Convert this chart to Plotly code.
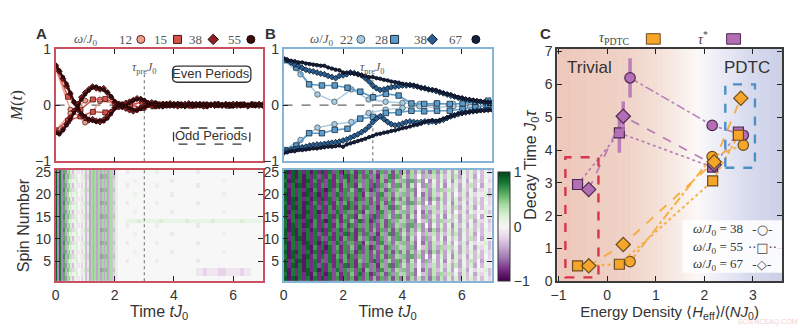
import plotly.graph_objects as go

W, H = 800, 335


def px(x):
    return x / W


def py(y):
    return 1 - y / H


SANS = "Liberation Sans, Arial, sans-serif"
SERIF = "Liberation Serif, Times New Roman, serif"

# ---------------------------------------------------------------- data
TIME_STEP = 0.125  # sampling of the dense traces and heatmap columns

# Panel A: magnetisation, trivial regime
A12_t = [0.0, 0.5, 1.0, 1.5, 2.0, 2.5, 3.0, 3.5, 4.0, 4.5, 5.0, 5.5, 6.0, 6.5, 7.0]
A12_even = [0.66, -0.08, -0.31, 0.07, 0.04, 0.00, 0.06, 0.02, 0.00, 0.01, -0.01, 0.00, 0.01, 0.00, 0.00]
A12_odd = [-0.45, -0.15, 0.08, 0.10, 0.02, 0.00, -0.05, 0.00, 0.01, -0.01, 0.00, 0.01, 0.00, -0.01, 0.00]

A15_t = [0.0, 0.42, 0.84, 1.26, 1.68, 2.09, 2.51, 2.93, 3.35, 3.77, 4.19, 4.61, 5.03, 5.45, 5.86, 6.28, 6.70]
A15_even = [0.68, 0.15, -0.08, 0.10, 0.11, 0.02, 0.00, 0.06, 0.02, 0.00, 0.01, 0.00, -0.01, 0.01, 0.00, 0.01, 0.00]
A15_odd = [-0.45, -0.28, -0.20, -0.12, -0.13, -0.03, 0.00, -0.05, -0.02, 0.01, 0.00, -0.01, 0.01, 0.00, -0.01, 0.00, 0.01]

A38_even = [0.70, 0.60, 0.47, 0.34, 0.20, 0.05, -0.08, -0.17, -0.23, -0.27, -0.25, -0.28, -0.30, -0.26, -0.20,
            -0.12, -0.04, 0.02, 0.00, 0.04, 0.06, 0.09, 0.12, 0.10, 0.07, 0.03, 0.05, 0.01, -0.02, 0.02, 0.00,
            0.03, -0.01, 0.02, 0.00, -0.02, 0.03, 0.01, -0.01, 0.02, 0.01, -0.02, 0.00, 0.02, 0.01, -0.01, 0.02,
            0.00, -0.01, 0.02, 0.00, 0.01, -0.01, 0.02, 0.00, -0.01, 0.01]
A38_odd = [-0.48, -0.50, -0.43, -0.33, -0.22, -0.10, 0.02, 0.14, 0.22, 0.28, 0.33, 0.30, 0.28, 0.30, 0.22, 0.14,
           0.05, -0.02, -0.03, -0.06, -0.09, -0.11, -0.08, -0.05, -0.02, 0.01, -0.02, 0.02, 0.00, -0.02, 0.02,
           0.00, 0.01, -0.02, 0.01, 0.02, 0.00, -0.01, 0.02, 0.00, -0.02, 0.01, 0.01, -0.01, 0.02, 0.00, -0.01,
           0.01, 0.02, -0.01, 0.00, 0.01, -0.02, 0.01, 0.00, 0.02, -0.01]
A55_even = [0.72, 0.62, 0.50, 0.38, 0.22, 0.06, -0.06, -0.15, -0.20, -0.25, -0.28, -0.30, -0.27, -0.29, -0.24,
            -0.16, -0.06, 0.00, 0.03, -0.01, 0.04, 0.08, 0.10, 0.12, 0.09, 0.05, 0.02, 0.05, 0.00, -0.03, 0.02,
            -0.02, 0.03, 0.00, 0.02, -0.02, 0.01, 0.03, -0.01, 0.02, 0.00, -0.02, 0.02, 0.01, -0.01, 0.02, 0.00,
            0.01, -0.02, 0.01, 0.02, -0.01, 0.00, 0.02, -0.01, 0.01, 0.00]
A55_odd = [-0.50, -0.52, -0.45, -0.36, -0.26, -0.14, -0.02, 0.10, 0.19, 0.26, 0.31, 0.33, 0.30, 0.27, 0.24, 0.16,
           0.07, 0.00, -0.04, -0.02, -0.05, -0.08, -0.10, -0.07, -0.04, -0.01, 0.02, -0.03, 0.01, 0.03, -0.02,
           0.02, -0.01, 0.02, -0.02, 0.00, 0.02, -0.01, 0.01, -0.02, 0.01, 0.02, -0.01, 0.00, 0.02, -0.01, 0.01,
           -0.02, 0.00, 0.01, -0.01, 0.02, 0.00, -0.01, 0.01, 0.00, -0.01]

# Panel B: magnetisation, prethermal time-crystal regime
B22_t = [0.0, 0.57, 1.14, 1.71, 2.28, 2.86, 3.43, 4.0, 4.57, 5.14, 5.71, 6.28, 6.85]
B22_even = [0.80, 0.55, 0.19, 0.06, 0.28, 0.10, 0.06, 0.04, 0.02, 0.03, 0.02, 0.04, 0.06]
B22_odd = [-0.80, -0.62, -0.40, -0.34, -0.30, -0.14, -0.08, -0.05, -0.02, -0.04, -0.02, -0.03, -0.01]

B28_t = [0.0, 0.43, 0.86, 1.29, 1.72, 2.15, 2.58, 3.01, 3.44, 3.87, 4.30, 4.73, 5.16, 5.59, 6.02, 6.45, 6.88]
B28_even = [0.80, 0.67, 0.37, 0.35, 0.35, 0.31, 0.24, 0.14, 0.20, 0.17, 0.03, 0.02, 0.03, 0.02, 0.03, 0.05, 0.08]
B28_odd = [-0.80, -0.72, -0.50, -0.50, -0.44, -0.42, -0.24, -0.21, -0.14, -0.13, -0.10, -0.11, -0.10, -0.10,
           -0.07, -0.04, 0.00]

B38_even = [0.82, 0.80, 0.76, 0.72, 0.70, 0.66, 0.63, 0.61, 0.60, 0.58, 0.56, 0.55, 0.52, 0.50, 0.48, 0.52,
            0.53, 0.55, 0.58, 0.57, 0.55, 0.53, 0.48, 0.42, 0.35, 0.30, 0.27, 0.28, 0.30, 0.32, 0.33, 0.34, 0.35,
            0.35, 0.36, 0.34, 0.33, 0.31, 0.30, 0.28, 0.27, 0.25, 0.23, 0.21, 0.19, 0.17, 0.15, 0.13, 0.12, 0.10,
            0.09, 0.08, 0.07, 0.06, 0.05, 0.05, 0.04]
B38_odd = [-0.82, -0.80, -0.79, -0.78, -0.76, -0.75, -0.74, -0.72, -0.71, -0.70, -0.70, -0.69, -0.68, -0.67,
           -0.66, -0.65, -0.63, -0.61, -0.58, -0.55, -0.52, -0.48, -0.44, -0.38, -0.30, -0.24, -0.20, -0.25,
           -0.30, -0.34, -0.36, -0.35, -0.33, -0.30, -0.29, -0.30, -0.31, -0.30, -0.29, -0.30, -0.29, -0.30,
           -0.28, -0.26, -0.23, -0.20, -0.18, -0.16, -0.14, -0.13, -0.12, -0.11, -0.10, -0.09, -0.08, -0.08, -0.07]
B67_even = [0.83, 0.80, 0.79, 0.78, 0.76, 0.76, 0.74, 0.73, 0.72, 0.71, 0.70, 0.70, 0.67, 0.65, 0.63, 0.62,
            0.58, 0.58, 0.57, 0.56, 0.55, 0.53, 0.52, 0.50, 0.50, 0.48, 0.47, 0.45, 0.44, 0.42, 0.41, 0.40, 0.38,
            0.37, 0.35, 0.36, 0.33, 0.31, 0.30, 0.28, 0.27, 0.27, 0.24, 0.22, 0.20, 0.19, 0.16, 0.14, 0.13, 0.11,
            0.10, 0.09, 0.08, 0.07, 0.06, 0.05, 0.05]
B67_odd = [-0.86, -0.84, -0.82, -0.82, -0.80, -0.80, -0.79, -0.78, -0.77, -0.77, -0.76, -0.75, -0.74, -0.74,
           -0.73, -0.72, -0.74, -0.70, -0.68, -0.66, -0.64, -0.62, -0.60, -0.57, -0.55, -0.52, -0.51, -0.49,
           -0.48, -0.46, -0.45, -0.43, -0.41, -0.40, -0.38, -0.36, -0.35, -0.33, -0.30, -0.28, -0.27, -0.28,
           -0.27, -0.24, -0.22, -0.20, -0.18, -0.15, -0.15, -0.13, -0.12, -0.11, -0.11, -0.10, -0.10, -0.09, -0.09]

# Spin-resolved magnetisation maps, rows from spin 25 (top) down to spin 1.
# Each character is one stroboscopic sample: 'a' = -1, 'k' = 0, 'u' = +1.
LEVELS = "abcdefghijklmnopqrstu"
N_COLS = 56

# Panel A map: even-period and odd-period samples for each spin (interleaved when drawn)
HA_E = ["tsqomljihgggggghjk", "tsrpnmkjhgggfgghjk", "tsqomlkjhgggggghjk"]
HA_O = ["fffghjklmoooooonlk", "ffghijlmnoooppoolk", "ffgklmllmoooooonlk"]
HA_T0 = "kkkkkkkkkkkkkkkkkkkkkkkkkkkkkkkkkkkkkk"
HA_T1 = "kjkkkkkkklkkkkkkkkkkjkkkkkkkkkkkkkkkkk"
HA_T2 = "kkklkkkkkkkkkjkkkkkkkkkkkkklkkkkkkkkkk"
HA_TG = "klllmlllllmllllllmllllllmlllllllmlllll"
HA_TP = "kkkkkkkkkkkkkkkkkkkkjjijjjiijjjjijjkkk"
HEAT_A_ROWS = [  # (head variant, tail) from spin 25 down to spin 1
    (0, HA_T1), (1, HA_T0), (2, HA_T2), (0, HA_T1), (1, HA_T0),
    (2, HA_T2), (0, HA_T0), (1, HA_T1), (2, HA_T0), (0, HA_T2),
    (1, HA_T0), (2, HA_TG), (0, HA_T1), (1, HA_T0), (2, HA_T2),
    (0, HA_T0), (1, HA_T1), (2, HA_T0), (0, HA_T2), (1, HA_T0),
    (2, HA_T1), (0, HA_T0), (1, HA_TP), (2, HA_TP), (0, HA_T0),
]

HB_1 = "tbtbscsbsctcsdrc" + "rdqcrdqdpdqepdpe" + "oeofnfoeofng" + "mgmgmhmhlhli"
HB_2 = "sbtcsbtcrcsdscqd" + "qcrdqeqdqdpdqeog" + "peqfofkflgmg" + "lfmhlglhmhki"
HB_3 = "tctbsbscsdscrcrd" + "scrcqdreqcpfrdqf" + "nfogkgohngmh" + "mgnglhmgkhlj"
HB_4 = "sbscsctbrcsbsdqc" + "rdpdsdqcrepdqfph" + "ofpekhofngoh" + "nhlgmhlgmilh"
HB_5 = "tcsbtbscscrdscrc" + "qdrcpeqdsdqfoeqe" + "oenfkfpgmglf" + "lhmglhnhkglj"
HB_6 = "tbscsbtcsbscrdsd" + "reqdrcpeqdrfpeog" + "pfoekeofnhmg" + "mgkhmgliljmh"
HEAT_B = [HB_1, HB_3, HB_2, HB_5, HB_4, HB_6, HB_1, HB_2, HB_3, HB_6, HB_5, HB_4, HB_2,
          HB_1, HB_3, HB_5, HB_6, HB_4, HB_1, HB_2, HB_5, HB_3, HB_6, HB_4, HB_1]

# Panel C: decay times versus energy density
C38_x = [0.47, 2.16, 2.80]
C38_tauP = [0.60, 3.80, 4.15]
C38_tauS = [6.20, 4.75, 4.45]
C38_tauS_err = [0.60, 0.0, 0.0]

C55_x = [-0.61, 0.25, 2.17, 2.70]
C55_tauP = [0.47, 0.52, 3.06, 4.45]
C55_tauS = [2.95, 4.52, 3.48, 4.55]
C55_tauS_err = [0.0, 0.60, 0.0, 0.0]

C67_x = [-0.38, 0.33, 2.20, 2.75]
C67_tauP = [0.47, 1.12, 3.64, 5.58]
C67_tauP_err = [0.0, 0.0, 0.0, 0.20]
C67_tauS = [2.80, 5.03, 3.55, None]
C67_tauS_err = [0.0, 0.45, 0.0, 0.0]


def levels(s):
    s = (s + "k" * N_COLS)[:N_COLS]
    return [(LEVELS.index(c) - 10) / 10 for c in s]


def heat_a():
    z = []
    for head, tail in HEAT_A_ROWS:
        ev = levels(HA_E[head] + tail)
        od = levels(HA_O[head] + tail)
        row = []
        for a, b in zip(ev, od):
            row += [a, b]
        z.append(row)
    return z[::-1]


def heat_b():
    return [levels(r) for r in HEAT_B][::-1]


def dense_t(vals):
    return [round(i * TIME_STEP, 4) for i in range(len(vals))]


# ---------------------------------------------------------------- figure
fig = go.Figure()

fig.add_trace(go.Heatmap(z=heat_a(), x0=TIME_STEP / 4, dx=TIME_STEP / 2, y0=1, dy=1,
                         colorscale="PRGn", zmin=-1, zmax=1, showscale=False,
                         xaxis="x2", yaxis="y2", hoverinfo="skip"))
fig.add_trace(go.Heatmap(z=heat_b(), x0=TIME_STEP / 2, dx=TIME_STEP, y0=1, dy=1,
                         colorscale="PRGn", zmin=-1, zmax=1, xaxis="x4", yaxis="y4", hoverinfo="skip",
                         colorbar=dict(x=px(495), xanchor="left", xpad=0, ypad=0,
                                       y=py(287), yanchor="bottom", len=(287 - 173) / H,
                                       lenmode="fraction", thickness=12, thicknessmode="pixels",
                                       outlinewidth=1, outlinecolor="#333",
                                       tickvals=[-1, 0, 1], ticktext=["\u22121", "0", "1"],
                                       ticks="", tickfont=dict(family=SANS, size=14, color="#333"))))


def add_series(xa, ya, t, vals, color, symbol, size, lw, outline="#2a1010", dash="solid"):
    fig.add_trace(go.Scatter(x=t, y=vals, mode="lines+markers", xaxis=xa, yaxis=ya,
                             line=dict(color=color, width=lw, dash=dash),
                             marker=dict(symbol=symbol, size=size, color=color,
                                         line=dict(color=outline, width=0.8)),
                             hoverinfo="skip"))


# panel A lines
cA12, cA15, cA38, cA55 = "#eda08c", "#d4544c", "#8e1f24", "#3b0b0d"
for vals in (A12_even, A12_odd):
    add_series("x", "y", A12_t, vals, cA12, "circle", 5, 1.5, "#5a2020")
for vals in (A15_even, A15_odd):
    add_series("x", "y", A15_t, vals, cA15, "square", 5, 1.5, "#4a1515")
for vals in (A38_even, A38_odd):
    add_series("x", "y", dense_t(vals), vals, cA38, "diamond", 4.5, 2, "#2a0808")
for vals in (A55_even, A55_odd):
    add_series("x", "y", dense_t(vals), vals, cA55, "circle", 3.5, 2.2, "#1a0505")

# panel B lines
cB22, cB28, cB38, cB67 = "#a9cbe0", "#5c9ccb", "#2b5f93", "#16203c"
for vals in (B22_even, B22_odd):
    add_series("x3", "y3", B22_t, vals, cB22, "circle", 5.5, 1.5, "#4a5a6a")
for vals in (B28_even, B28_odd):
    add_series("x3", "y3", B28_t, vals, cB28, "square", 5.5, 1.6, "#1a2a3a")
for vals in (B38_even, B38_odd):
    add_series("x3", "y3", dense_t(vals), vals, cB38, "diamond", 4.5, 2, "#0a1a2a")
for vals in (B67_even, B67_odd):
    add_series("x3", "y3", dense_t(vals), vals, cB67, "circle", 3.5, 2.2, "#0a0f1e")

# panel C
ORANGE, ORANGE_EDGE = "#f5a52a", "#6b4c1e"
PURPLE, PURPLE_EDGE = "#b36eb5", "#4d2a50"
C_SERIES = [
    (C38_x, C38_tauS, C38_tauS_err, C38_tauP, None, "circle", "dashdot", 10.5),
    (C55_x, C55_tauS, C55_tauS_err, C55_tauP, None, "square", "dot", 10),
    (C67_x, C67_tauS, C67_tauS_err, C67_tauP, C67_tauP_err, "diamond", "dash", 11),
]
for xs, ts, te, tp, tpe, sym, dash, msz in C_SERIES:
    fig.add_trace(go.Scatter(x=xs, y=ts, mode="lines+markers", xaxis="x5", yaxis="y5",
                             line=dict(color="rgba(170,105,172,0.85)", width=1.6, dash=dash),
                             marker=dict(symbol=sym, size=msz, color=PURPLE,
                                         line=dict(color=PURPLE_EDGE, width=1.2)),
                             error_y=dict(type="data", array=te, visible=True, width=0, thickness=3.5,
                                          color="rgba(179,110,181,0.85)"),
                             hoverinfo="skip", connectgaps=False))
for xs, ts, te, tp, tpe, sym, dash, msz in C_SERIES:
    fig.add_trace(go.Scatter(x=xs, y=tp, mode="lines+markers", xaxis="x5", yaxis="y5",
                             line=dict(color="rgba(245,170,55,0.9)", width=2, dash=dash),
                             marker=dict(symbol=sym, size=msz, color=ORANGE,
                                         line=dict(color=ORANGE_EDGE, width=1.2)),
                             error_y=(dict(type="data", array=tpe, visible=True, width=0, thickness=3,
                                           color="rgba(230,150,40,0.9)") if tpe else None),
                             hoverinfo="skip"))

# legend keys above panels A and B (pixel overlay)
KEY_A = [(135, "circle", cA12, "#5a2020"), (172, "square", cA15, "#4a1515"),
         (208, "diamond", cA38, "#2a0808"), (246, "circle", cA55, "#1a0505")]
KEY_B = [(357, "circle", cB22, "#4a5a6a"), (391, "square", cB28, "#1a2a3a"),
         (429, "diamond", cB38, "#0a1a2a"), (473, "circle", cB67, "#0a0f1e")]
for kx, sym, col, edge in KEY_A + KEY_B:
    fig.add_trace(go.Scatter(x=[kx], y=[33], mode="markers", xaxis="x6", yaxis="y6",
                             marker=dict(symbol=sym, size=8, color=col, line=dict(color=edge, width=1)),
                             hoverinfo="skip"))

# ---------------------------------------------------------------- axes
TICKFONT = dict(family=SANS, size=14, color="#333")


def axis(domain, rng, color, anchor, **kw):
    d = dict(domain=domain, range=rng, anchor=anchor, showline=True, mirror="ticks", linecolor=color,
             linewidth=1.6, ticks="inside", ticklen=5, tickwidth=1.3, tickcolor="#222",
             showgrid=False, zeroline=False, tickfont=TICKFONT, fixedrange=True)
    d.update(kw)
    return d


RED, BLUE, DARK = "#c9505e", "#86b4d6", "#3a3a3a"
XA = [px(49), px(258)]
XB = [px(279), px(489)]
XC = [px(555), px(782)]
YTOP = [py(161), py(43)]
YHEAT = [py(287), py(170)]
YC = [py(287), py(43)]

time_title = dict(text="Time <i>tJ</i><sub>0</sub>", font=dict(family=SANS, size=16, color="#333"), standoff=4)
spin_ticks = dict(tickvals=[5, 10, 15, 20, 25])
m_ticks = dict(tickvals=[-1, 0, 1], ticktext=["\u22121", "0", "1"])

fig.update_layout(
    width=W, height=H, margin=dict(l=0, r=0, t=0, b=0),
    paper_bgcolor="white", plot_bgcolor="rgba(0,0,0,0)", showlegend=False,
    xaxis=axis(XA, [0, 7], RED, "y", tickvals=[0, 2, 4, 6], showticklabels=False),
    yaxis=axis(YTOP, [-1, 1], RED, "x", **m_ticks,
               title=dict(text="<i>M</i>(<i>t</i>)", font=dict(family=SERIF, size=17, color="#333"),
                          standoff=8)),
    xaxis2=axis(XA, [0, 7], RED, "y2", tickvals=[0, 2, 4, 6], title=time_title),
    yaxis2=axis(YHEAT, [0.5, 25.5], RED, "x2", **spin_ticks,
                title=dict(text="Spin Number", font=dict(family=SANS, size=16, color="#333"), standoff=2)),
    xaxis3=axis(XB, [0, 7], BLUE, "y3", tickvals=[0, 2, 4, 6], showticklabels=False),
    yaxis3=axis(YTOP, [-1, 1], BLUE, "x3", **m_ticks),
    xaxis4=axis(XB, [0, 7], BLUE, "y4", tickvals=[0, 2, 4, 6], title=time_title),
    yaxis4=axis(YHEAT, [0.5, 25.5], BLUE, "x4", **spin_ticks),
    xaxis5=axis(XC, [-1.03, 3.6], DARK, "y5", tickvals=[-1, 0, 1, 2, 3],
                ticktext=["\u22121", "0", "1", "2", "3"],
                title=dict(text="Energy Density \u27e8<i>H</i><sub>eff</sub>\u27e9/(<i>NJ</i><sub>0</sub>)",
                           font=dict(family=SANS, size=15, color="#333"), standoff=2)),
    yaxis5=axis(YC, [0, 7.08], DARK, "x5", tickvals=list(range(8)),
                title=dict(text="Decay Time <i>J</i><sub>0</sub><i>\u03c4</i>",
                           font=dict(family=SANS, size=16, color="#333"), standoff=4)),
    xaxis6=dict(domain=[0, 1], range=[0, W], visible=False, anchor="y6", fixedrange=True),
    yaxis6=dict(domain=[0, 1], range=[H, 0], visible=False, anchor="x6", fixedrange=True),
)

# ---------------------------------------------------------------- shapes
shapes = []

# colour wash behind panel C: warm on the trivial side, cool on the PDTC side
WASH = [(-1.03, (237, 199, 186)), (0.4, (240, 210, 198)), (1.2, (245, 228, 220)),
        (1.85, (252, 248, 247)), (2.05, (244, 244, 250)), (2.9, (216, 219, 238)), (3.6, (203, 207, 231))]
N_BANDS = 70
x_lo, x_hi = WASH[0][0], WASH[-1][0]
for i in range(N_BANDS):
    xa = x_lo + (x_hi - x_lo) * i / N_BANDS
    xb = x_lo + (x_hi - x_lo) * (i + 1) / N_BANDS
    xm = 0.5 * (xa + xb)
    for (x0, c0), (x1, c1) in zip(WASH[:-1], WASH[1:]):
        if x0 <= xm <= x1:
            f = (xm - x0) / (x1 - x0)
            col = tuple(round(a + (b - a) * f) for a, b in zip(c0, c1))
            break
    shapes.append(dict(type="rect", xref="x5", yref="y5", x0=xa, x1=xb + 0.01, y0=0, y1=7.08,
                       fillcolor="rgb(%d,%d,%d)" % col, line=dict(width=0), layer="below"))

# zero lines and pre-thermal time markers
for xr, yr in (("x", "y"), ("x3", "y3")):
    shapes.append(dict(type="line", xref=xr, yref=yr, x0=0, x1=7, y0=0, y1=0,
                       line=dict(color="#666", width=1.3, dash="dash"), layer="below"))
    shapes.append(dict(type="line", xref=xr, yref=yr, x0=3, x1=3, y0=-1, y1=0.56,
                       line=dict(color="#888", width=1.3, dash="dot"), layer="below"))
shapes.append(dict(type="line", xref="x2", yref="y2", x0=3, x1=3, y0=0.5, y1=25.5,
                   line=dict(color="#888", width=1.3, dash="dot")))


def round_rect(x0, y0, x1, y1, r):
    rx, ry = r / W, r / H
    X0, X1, Y0, Y1 = px(x0), px(x1), py(y1), py(y0)
    return ("M %f,%f L %f,%f Q %f,%f %f,%f L %f,%f Q %f,%f %f,%f L %f,%f Q %f,%f %f,%f "
            "L %f,%f Q %f,%f %f,%f Z" % (
                X0 + rx, Y0, X1 - rx, Y0, X1, Y0, X1, Y0 + ry, X1, Y1 - ry, X1, Y1, X1 - rx, Y1,
                X0 + rx, Y1, X0, Y1, X0, Y1 - ry, X0, Y0 + ry, X0, Y0, X0 + rx, Y0))


shapes.append(dict(type="path", xref="paper", yref="paper", path=round_rect(167, 61, 246, 78, 5),
                   line=dict(color="#333", width=1.3), fillcolor="white"))
shapes.append(dict(type="path", xref="paper", yref="paper", path=round_rect(168, 126, 245, 143, 5),
                   line=dict(color="#333", width=1.3, dash="dash"), fillcolor="white"))

# regime boxes in panel C
shapes.append(dict(type="rect", xref="x5", yref="y5", x0=-0.86, x1=-0.18, y0=0.12, y1=3.78,
                   line=dict(color="#d8344c", width=2.4, dash="dash")))
shapes.append(dict(type="rect", xref="x5", yref="y5", x0=2.43, x1=3.04, y0=3.46, y1=6.0,
                   line=dict(color="#4a8fc8", width=2.4, dash="dash")))
# inner key box
shapes.append(dict(type="rect", xref="x5", yref="y5", x0=1.55, x1=3.6, y0=0.26, y1=1.86,
                   fillcolor="rgba(255,255,255,0.88)", line=dict(width=0)))
# key squares for tau_PDTC and tau*
shapes.append(dict(type="rect", xref="paper", yref="paper", x0=px(645), x1=px(659), y0=py(38), y1=py(27),
                   fillcolor=ORANGE, line=dict(color=ORANGE_EDGE, width=1)))
shapes.append(dict(type="rect", xref="paper", yref="paper", x0=px(726), x1=px(740), y0=py(38), y1=py(27),
                   fillcolor=PURPLE, line=dict(color=PURPLE_EDGE, width=1)))
fig.update_layout(shapes=shapes)

# ---------------------------------------------------------------- text
ann = []


def text(x, y, s, size=14, family=SANS, color="#333", xanchor="center", **kw):
    ann.append(dict(x=px(x), y=py(y), xref="paper", yref="paper", text=s, showarrow=False,
                    font=dict(family=family, size=size, color=color), xanchor=xanchor,
                    yanchor="middle", **kw))


text(35, 27, "<b>A</b>", 15)
text(266, 27, "<b>B</b>", 15)
text(543, 27, "<b>C</b>", 15)

text(80, 33, "<i>\u03c9</i>/<i>J</i><sub>0</sub>", 13, SERIF, "#555")
for lx, lab in ((120, "12"), (155, "15"), (190, "38"), (230, "55")):
    text(lx, 33, lab, 13, SERIF, "#555")
text(318, 33, "<i>\u03c9</i>/<i>J</i><sub>0</sub>", 13, SERIF, "#555")
for lx, lab in ((343, "22"), (378, "28"), (417, "38"), (453, "67")):
    text(lx, 33, lab, 13, SERIF, "#555")

text(206, 69, "Even Periods", 13)
text(206, 134, "Odd Periods", 13)

for xr in ("x", "x3"):
    ann.append(dict(x=3, y=py(63), xref=xr, yref="paper", showarrow=False,
                    text="<i>\u03c4</i><sub>pre</sub><i>J</i><sub>0</sub>",
                    font=dict(family=SERIF, size=12, color="#555"), yanchor="middle"))

text(612, 32, "<i>\u03c4</i><sub>PDTC</sub>", 14, SERIF, "#444")
text(702, 31, "<i>\u03c4</i><sup>*</sup>", 14, SERIF, "#444")
text(588, 62, "Trivial", 17)
text(747, 62, "PDTC", 17)

for ky, w, sym in ((233, "38", "-\u25cb-"), (251, "55", "\u00b7\u00b7\u25a1\u00b7\u00b7"), (269, "67", "-\u25c7-")):
    text(690, ky, "<i>\u03c9</i>/<i>J</i><sub>0</sub> = " + w, 13, SERIF, "#333", xanchor="left")
    text(762, ky, sym, 13, "DejaVu Sans", "#444")

ann.append(dict(x=px(799), y=0, xref="paper", yref="paper", text="SCIENCEAQ.COM", showarrow=False,
                font=dict(family=SANS, size=7, color="rgba(230,170,180,0.6)"),
                xanchor="right", yanchor="bottom", borderpad=0))

fig.update_layout(annotations=ann)
fig.write_html("out.html")
